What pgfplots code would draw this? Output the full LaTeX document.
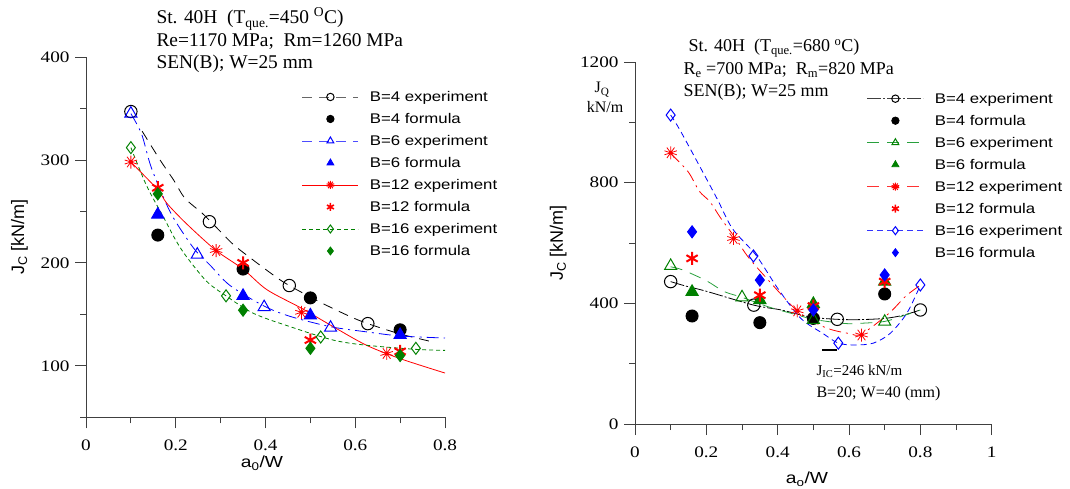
\documentclass[border=0pt]{standalone}
\usepackage{fontspec}
\setmainfont{Liberation Serif}
\setsansfont{Liberation Sans}
\newfontfamily\tickfont{Liberation Serif}[FakeStretch=1.2]
\newfontfamily\legfont{Liberation Sans}[FakeStretch=1.2]
\usepackage{pgfplots}
\pgfplotsset{compat=1.18}
\definecolor{dgreen}{RGB}{0,128,0}
\definecolor{lgreen}{RGB}{40,160,60}
\pgfplotsset{
  jaxis/.style={
    scale only axis, anchor=south west,
    axis lines*=left,
    axis line style={line width=0.8pt, black!75},
    tick style={line width=0.8pt, black!75},
    tick align=outside,
    major tick length=11pt, minor tick length=6pt,
    /pgf/number format/assume math mode=true,
    /pgf/number format/1000 sep={},
    xticklabel style={font=\tickfont\fontsize{16}{16}\selectfont, yshift=-8pt},
    yticklabel style={font=\tickfont\fontsize{16}{16}\selectfont, xshift=-2pt},
    xlabel style={font=\legfont\fontsize{16}{16}\selectfont},
    ylabel style={font=\sffamily\fontsize{18}{18}\selectfont},
    legend cell align=left,
    legend image code/.code={
      \path[draw=none, fill=none] (0pt,-7pt) rectangle (56pt,7pt);
      \draw[mark repeat=2,mark phase=2,##1] plot coordinates {(0pt,0pt) (28pt,0pt) (56pt,0pt)};},
    legend style={draw=none, fill=none, inner sep=0pt, outer sep=0pt,
      row sep=8pt, column sep=11pt, anchor=north west,
      font=\legfont\fontsize{14}{14}\selectfont,
      nodes={inner sep=0pt}},
    every axis plot/.append style={line width=0.8pt},
  },
  fit/.style={no markers, smooth, tension=0.5, forget plot},
  pts/.style={only marks, forget plot, mark options={line width=1pt}},
}
\begin{document}
\begin{tikzpicture}[x=1pt,y=1pt]
\useasboundingbox (0,0) rectangle (1070,488);

% ---------------- left: T = 450 C
\node[anchor=base west, font=\fontsize{19.4}{19.4}\selectfont] at (153,464) {St. 40H\ \ (T\textsubscript{que.}=450 \textsuperscript{O}C)};
\node[anchor=base west, font=\fontsize{19.4}{19.4}\selectfont] at (153,441) {Re=1170 MPa;\ \ Rm=1260 MPa};
\node[anchor=base west, font=\fontsize{19.4}{19.4}\selectfont] at (153,419) {SEN(B); W=25 mm};

\begin{axis}[jaxis,
  at={(86pt,70.7pt)}, width=359pt, height=360.3pt,
  xmin=0, xmax=0.8, ymin=50, ymax=400,
  xtick={0,0.2,0.4,0.6,0.8}, minor xtick={0.1,0.3,0.5,0.7},
  ytick={100,200,300,400}, minor ytick={50,150,250,350},
  xlabel={a\textsubscript{0}/W}, ylabel={J\textsubscript{C} [kN/m]},
  xlabel style={at={(axis description cs:0.49,-0.14)}, anchor=base},
  ylabel style={at={(axis description cs:-0.185,0.5)}, anchor=center},
  legend style={at={(axis description cs:0.6017,0.9085)}},
]
\addlegendimage{black!60, dash pattern=on 10pt off 7pt, mark=o, mark size=3.7pt, mark options={solid, black, line width=1pt}}
\addlegendentry{B=4 experiment}
\addlegendimage{only marks, black, mark=*, mark size=3.7pt}
\addlegendentry{B=4 formula}
\addlegendimage{blue!70, dash pattern=on 10pt off 7pt, mark=triangle, mark size=4pt, mark options={solid, blue, line width=1pt}}
\addlegendentry{B=6 experiment}
\addlegendimage{only marks, blue, mark=triangle*, mark size=4pt}
\addlegendentry{B=6 formula}
\addlegendimage{red, mark=10-pointed star, mark size=4pt, mark options={solid, red, fill=white, line width=1pt}}
\addlegendentry{B=12 experiment}
\addlegendimage{only marks, red, mark=asterisk, mark size=4pt, mark options={line width=1.6pt}}
\addlegendentry{B=12 formula}
\addlegendimage{dgreen, dash pattern=on 4pt off 3pt, mark=diamond, mark size=4pt, mark options={solid, dgreen, line width=1pt}}
\addlegendentry{B=16 experiment}
\addlegendimage{only marks, dgreen, mark=diamond*, mark size=4pt}
\addlegendentry{B=16 formula}

% fitted curves
\addplot[fit, black, dash pattern=on 10pt off 7pt] coordinates {(0.125,328)(0.165,300)(0.196,280)(0.22,263)(0.257,249)(0.276,241)(0.305,228)(0.336,215)(0.418,188)(0.453,178)(0.521,162)(0.588,148)(0.628,141)(0.7,131)(0.775,123)};
\addplot[fit, blue, dash pattern=on 12pt off 5pt on 2pt off 5pt] coordinates {(0.1,345)(0.124,325)(0.146,292)(0.187,250)(0.224,224)(0.248,210)(0.276,198)(0.321,178)(0.397,158)(0.455,148)(0.545,138)(0.625,133)(0.7,129)(0.8,127)};
\addplot[fit, red] coordinates {(0.1,298)(0.16,271)(0.18,258)(0.224,238)(0.29,212)(0.35,194)(0.403,174)(0.48,156)(0.551,138)(0.625,120)(0.7,107)(0.8,93)};
\addplot[fit, dgreen, dash pattern=on 4pt off 3pt] coordinates {(0.1,312)(0.135,275)(0.172,245)(0.2,222)(0.224,206)(0.269,182)(0.312,168)(0.373,151)(0.455,138)(0.551,125)(0.625,120)(0.735,116)(0.8,115)};

% B=4
\addplot[pts, black, mark=o, mark size=6.2pt] coordinates {(0.1,347)(0.275,240)(0.453,178)(0.628,141)};
\addplot[pts, black, mark=*, mark size=6pt] coordinates {(0.16,227)(0.35,194)(0.5,166)(0.7,135)};
% B=6
\addplot[pts, blue, mark=triangle, mark size=7pt] coordinates {(0.1,345)(0.248,208)(0.397,157)(0.545,137)};
\addplot[pts, blue, mark=triangle*, mark size=7pt] coordinates {(0.16,247)(0.35,168)(0.5,149)(0.7,130)};
% B=12
\addplot[pts, red, mark=10-pointed star, mark size=6.5pt, mark options={fill=white}] coordinates {(0.1,298)(0.29,212)(0.48,152)(0.67,112)};
\addplot[pts, red, mark=asterisk, mark size=6.5pt, mark options={line width=2pt}] coordinates {(0.16,273)(0.35,200)(0.5,125)(0.7,114)};
% B=16
\addplot[pts, dgreen, mark=diamond, mark size=6pt] coordinates {(0.1,312)(0.312,168)(0.523,128)(0.735,117)};
\addplot[pts, dgreen, mark=diamond*, mark size=6pt] coordinates {(0.16,267)(0.35,154)(0.5,117)(0.7,110)};
\end{axis}

% ---------------- right: T = 680 C
\node[anchor=base west, font=\fontsize{18}{18}\selectfont] at (685,436) {St. 40H\ \ (T\textsubscript{que.}=680 \textsuperscript{o}C)};
\node[anchor=base west, font=\fontsize{18}{18}\selectfont] at (680,413) {R\textsubscript{e} =700 MPa;\ \ R\textsubscript{m}=820 MPa};
\node[anchor=base west, font=\fontsize{18}{18}\selectfont] at (680,391) {SEN(B); W=25 mm};
\node[anchor=base, font=\fontsize{16}{16}\selectfont] at (602,395) {J\textsubscript{Q}};
\node[anchor=base, font=\fontsize{16}{16}\selectfont] at (605,375) {kN/m};
\node[anchor=base west, font=\fontsize{15}{15}\selectfont] at (813,113) {J\textsubscript{IC}=246 kN/m};
\node[anchor=base west, font=\fontsize{16}{16}\selectfont] at (813,91) {B=20; W=40 (mm)};

\begin{axis}[jaxis,
  at={(635pt,64pt)}, width=356.7pt, height=362pt,
  xmin=0, xmax=1, ymin=0, ymax=1200,
  xtick={0,0.2,0.4,0.6,0.8,1}, minor xtick={0.1,0.3,0.5,0.7,0.9},
  ytick={0,400,800,1200}, minor ytick={200,600,1000},
  xlabel={a\textsubscript{o}/W}, ylabel={J\textsubscript{C} [kN/m]},
  xlabel style={at={(axis description cs:0.482,-0.165)}, anchor=base},
  ylabel style={at={(axis description cs:-0.215,0.5)}, anchor=center},
  legend style={at={(axis description cs:0.6504,0.918)}},
]
\addlegendimage{black!75, dash pattern=on 14pt off 2pt on 2pt off 2pt, mark=o, mark size=3.7pt, mark options={solid, black, line width=1pt}}
\addlegendentry{B=4 experiment}
\addlegendimage{only marks, black, mark=*, mark size=3.7pt}
\addlegendentry{B=4 formula}
\addlegendimage{lgreen, dash pattern=on 12pt off 8pt, mark=triangle, mark size=4pt, mark options={solid, dgreen, line width=1pt}}
\addlegendentry{B=6 experiment}
\addlegendimage{only marks, dgreen, mark=triangle*, mark size=4pt}
\addlegendentry{B=6 formula}
\addlegendimage{red!80, dash pattern=on 12pt off 8pt, mark=10-pointed star, mark size=4pt, mark options={solid, red, fill=white, line width=1pt}}
\addlegendentry{B=12 experiment}
\addlegendimage{only marks, red, mark=asterisk, mark size=4pt, mark options={line width=1.6pt}}
\addlegendentry{B=12 formula}
\addlegendimage{blue!80, dash pattern=on 6pt off 4pt, mark=diamond, mark size=4pt, mark options={solid, blue, line width=1pt}}
\addlegendentry{B=16 experiment}
\addlegendimage{only marks, blue, mark=diamond*, mark size=4pt}
\addlegendentry{B=16 formula}

% fitted curves
\addplot[fit, black, dash pattern=on 14pt off 2pt on 2pt off 2pt] coordinates {(0.1,472)(0.14,458)(0.2,440)(0.333,394)(0.41,378)(0.49,355)(0.567,347)(0.63,346)(0.7,350)(0.75,360)(0.8,378)};
\addplot[fit, lgreen, dash pattern=on 12pt off 8pt] coordinates {(0.1,521)(0.133,511)(0.2,475)(0.25,439)(0.3,420)(0.375,388)(0.453,362)(0.505,346)(0.59,333)(0.635,334)(0.7,340)(0.75,358)(0.8,378)};
\addplot[fit, red, dash pattern=on 12pt off 5pt on 2pt off 5pt] coordinates {(0.1,897)(0.149,836)(0.18,772)(0.21,737)(0.24,683)(0.282,615)(0.315,557)(0.36,495)(0.455,375)(0.533,320)(0.6,300)(0.635,298)(0.712,367)(0.76,425)(0.8,460)};
\addplot[fit, blue, dash pattern=on 6pt off 4pt] coordinates {(0.1,1024)(0.13,966)(0.226,756)(0.273,648)(0.339,560)(0.4,450)(0.465,350)(0.527,300)(0.57,268)(0.617,262)(0.668,268)(0.715,300)(0.762,367)(0.8,460)};
% J_IC mark
\addplot[forget plot, black, line width=2.5pt] coordinates {(0.525,246)(0.565,246)};

% B=4
\addplot[pts, black, mark=o, mark size=6.2pt] coordinates {(0.1,472)(0.333,394)(0.567,347)(0.8,378)};
\addplot[pts, black, mark=*, mark size=6pt] coordinates {(0.16,358)(0.35,336)(0.5,350)(0.7,431)};
% B=6
\addplot[pts, dgreen, mark=triangle, mark size=7pt] coordinates {(0.1,524)(0.3,420)(0.5,345)(0.7,339)};
\addplot[pts, dgreen, mark=triangle*, mark size=7pt] coordinates {(0.16,438)(0.35,411)(0.5,398)(0.7,472)};
% B=12
\addplot[pts, red, mark=10-pointed star, mark size=6.5pt, mark options={fill=white}] coordinates {(0.1,899)(0.276,615)(0.455,375)(0.635,295)};
\addplot[pts, red, mark=asterisk, mark size=6.5pt, mark options={line width=2pt}] coordinates {(0.16,549)(0.35,427)(0.5,391)(0.7,472)};
% B=16
\addplot[pts, blue, mark=diamond, mark size=6pt] coordinates {(0.1,1024)(0.332,557)(0.57,268)(0.8,461)};
\addplot[pts, blue, mark=diamond*, mark size=6pt] coordinates {(0.16,637)(0.35,477)(0.5,378)(0.7,494)};
\end{axis}
\end{tikzpicture}
\end{document}
